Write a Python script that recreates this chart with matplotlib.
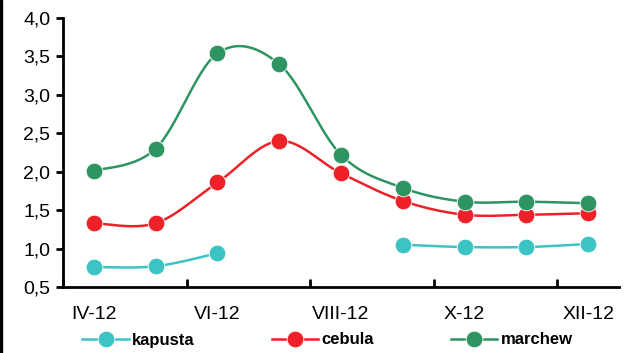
import numpy as np
import matplotlib.pyplot as plt
from matplotlib.patches import Rectangle
from matplotlib.lines import Line2D

months = ["IV-12", "V-12", "VI-12", "VII-12", "VIII-12", "IX-12", "X-12", "XI-12", "XII-12"]
kapusta = [0.76, 0.77, 0.94, None, None, 1.05, 1.02, 1.02, 1.06]
cebula = [1.33, 1.33, 1.86, 2.40, 1.98, 1.62, 1.44, 1.44, 1.46]
marchew = [2.01, 2.30, 3.54, 3.40, 2.22, 1.79, 1.61, 1.61, 1.59]

series = [("kapusta", kapusta, "#3cc3c3"),
          ("cebula", cebula, "#ee2028"),
          ("marchew", marchew, "#2e9461")]


def smooth(xs, ys, n=30):
    # Catmull-Rom style smoothing, similar to Excel's smoothed lines
    xs = np.asarray(xs, float)
    ys = np.asarray(ys, float)
    if len(xs) < 2:
        return xs, ys
    px, py = [], []
    for i in range(len(xs) - 1):
        p0 = (xs[max(i - 1, 0)], ys[max(i - 1, 0)])
        p1 = (xs[i], ys[i])
        p2 = (xs[i + 1], ys[i + 1])
        p3 = (xs[min(i + 2, len(xs) - 1)], ys[min(i + 2, len(xs) - 1)])
        c1 = (p1[0] + (p2[0] - p0[0]) / 6, p1[1] + (p2[1] - p0[1]) / 6)
        c2 = (p2[0] - (p3[0] - p1[0]) / 6, p2[1] - (p3[1] - p1[1]) / 6)
        t = np.linspace(0, 1, n)
        for a, b, c, d, out in ((p1[0], c1[0], c2[0], p2[0], px), (p1[1], c1[1], c2[1], p2[1], py)):
            out.extend((1 - t) ** 3 * a + 3 * (1 - t) ** 2 * t * b + 3 * (1 - t) * t ** 2 * c + t ** 3 * d)
    return np.array(px), np.array(py)


def segments(vals):
    segs, cur = [], []
    for i, v in enumerate(vals):
        if v is None:
            if cur:
                segs.append(cur)
            cur = []
        else:
            cur.append((i, v))
    if cur:
        segs.append(cur)
    return segs


plt.rcParams['font.family'] = ['Liberation Sans', 'DejaVu Sans']
fig = plt.figure(figsize=(6.24, 3.53), dpi=100)
ax = fig.add_axes([63 / 624, 1 - 287 / 353, 556 / 624, 269 / 353])

for name, vals, col in series:
    for seg in segments(vals):
        xs = [p[0] for p in seg]
        ys = [p[1] for p in seg]
        sx, sy = smooth(xs, ys)
        ax.plot(sx, sy, color=col, lw=1.8, zorder=2)
        ax.plot(xs, ys, 'o', color=col, ms=12, mec='white', mew=0.6, zorder=3)

ax.set_xlim(-0.5, len(months) - 0.5)
ax.set_ylim(0.5, 4.0)
ax.set_yticks(np.arange(0.5, 4.01, 0.5))
ax.set_yticklabels([f"{v:.1f}".replace(".", ",") for v in np.arange(0.5, 4.01, 0.5)])
ax.set_xticks(np.arange(-0.5, len(months), 2))
ax.set_xticklabels([])
ax.set_xticks(range(0, len(months), 2), minor=True)
ax.set_xticklabels(months[::2], minor=True)
ax.tick_params(axis='x', which='minor', length=0, pad=14, labelsize=14)
ax.tick_params(axis='x', which='major', length=6, width=2, direction='in')
ax.tick_params(axis='y', length=5, width=2, direction='out', labelsize=14, pad=4)
for s in ['top', 'right']:
    ax.spines[s].set_visible(False)
for s in ['left', 'bottom']:
    ax.spines[s].set_linewidth(2)
ax.spines['bottom'].set_zorder(4)

handles = [Line2D([0], [0], color=c, lw=1.8, marker='o', ms=12, mec='white', mew=0.6) for _, _, c in series]
fig.legend(handles, [n for n, _, _ in series], loc='center', ncol=3, frameon=False,
           bbox_to_anchor=(0.525, 1 - 340 / 353), prop={'weight': 'bold', 'size': 12},
           columnspacing=4.6, handlelength=2.8, handletextpad=0.2, borderpad=0)

fig.add_artist(Rectangle((0, 0), 2 / 624, 1, transform=fig.transFigure, color='black'))

fig.savefig("out.png", dpi=100)
